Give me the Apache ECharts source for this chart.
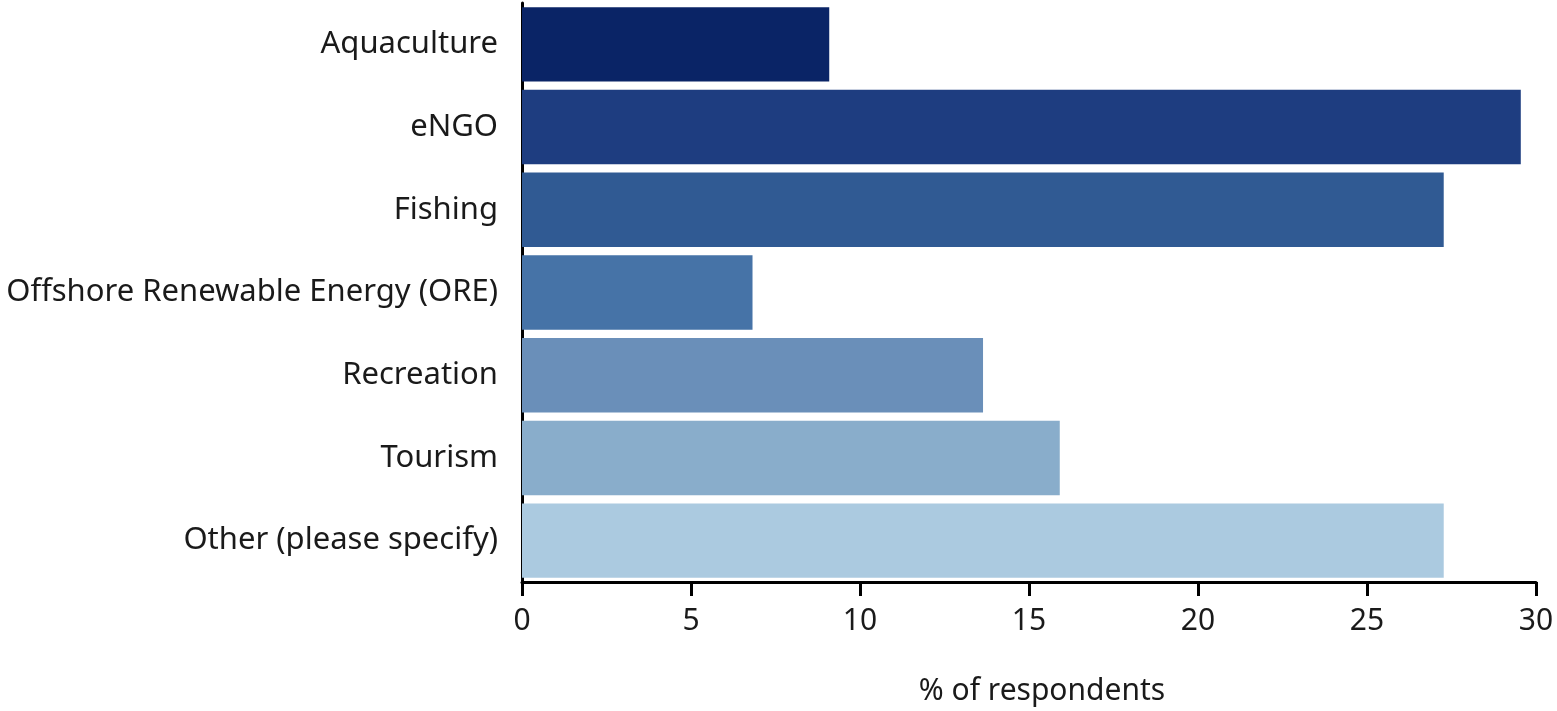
<!DOCTYPE html>
<html>
<head>
<meta charset="utf-8">
<script src="https://cdn.jsdelivr.net/npm/echarts@6/dist/echarts.min.js"></script>
<style>
  html, body { margin: 0; padding: 0; background: #ffffff; }
  #chart { width: 1557px; height: 711px; }
</style>
</head>
<body>
<div id="chart"></div>
<script>
// Stakeholder sectors of survey respondents (share of respondents, %)
const categories = [
  'Aquaculture',
  'eNGO',
  'Fishing',
  'Offshore Renewable Energy (ORE)',
  'Recreation',
  'Tourism',
  'Other (please specify)'
];
const percentages = [9.09, 29.55, 27.27, 6.82, 13.64, 15.91, 27.27];
const barColors = ['#0a2466', '#1e3d80', '#305a93', '#4673a7', '#6a8fb9', '#89adcb', '#abcae0'];
const xTicks = { min: 0, max: 30, interval: 5 };
const xAxisTitle = '% of respondents';

const fontFamily = '"Noto Sans", "Open Sans", sans-serif';
const textColor = '#1a1a1a';

const chart = echarts.init(document.getElementById('chart'), null, { renderer: 'canvas' });

chart.setOption({
  animation: false,
  backgroundColor: '#ffffff',
  grid: { left: 522, right: 21, top: 3, bottom: 126, containLabel: false },
  xAxis: {
    type: 'value',
    min: xTicks.min,
    max: xTicks.max,
    interval: xTicks.interval,
    name: xAxisTitle,
    nameLocation: 'middle',
    nameGap: 94,
    nameTextStyle: { fontFamily, fontSize: 30, color: textColor, padding: [0, 0, 0, 26] },
    axisLine: { show: true, lineStyle: { color: '#000000', width: 3 } },
    axisTick: { show: true, length: 14, lineStyle: { color: '#000000', width: 3 } },
    axisLabel: { fontFamily, fontSize: 30, color: textColor, margin: 24 },
    splitLine: { show: false }
  },
  yAxis: {
    type: 'category',
    data: categories,
    inverse: true,
    axisLine: { show: true, lineStyle: { color: '#000000', width: 3 } },
    axisTick: { show: false },
    axisLabel: { fontFamily, fontSize: 31, color: textColor, margin: 24 },
    splitLine: { show: false }
  },
  series: [{
    type: 'bar',
    data: percentages.map((v, i) => ({ value: v, itemStyle: { color: barColors[i] } })),
    barCategoryGap: '10%',
    z: 1
  }]
});
</script>
</body>
</html>
